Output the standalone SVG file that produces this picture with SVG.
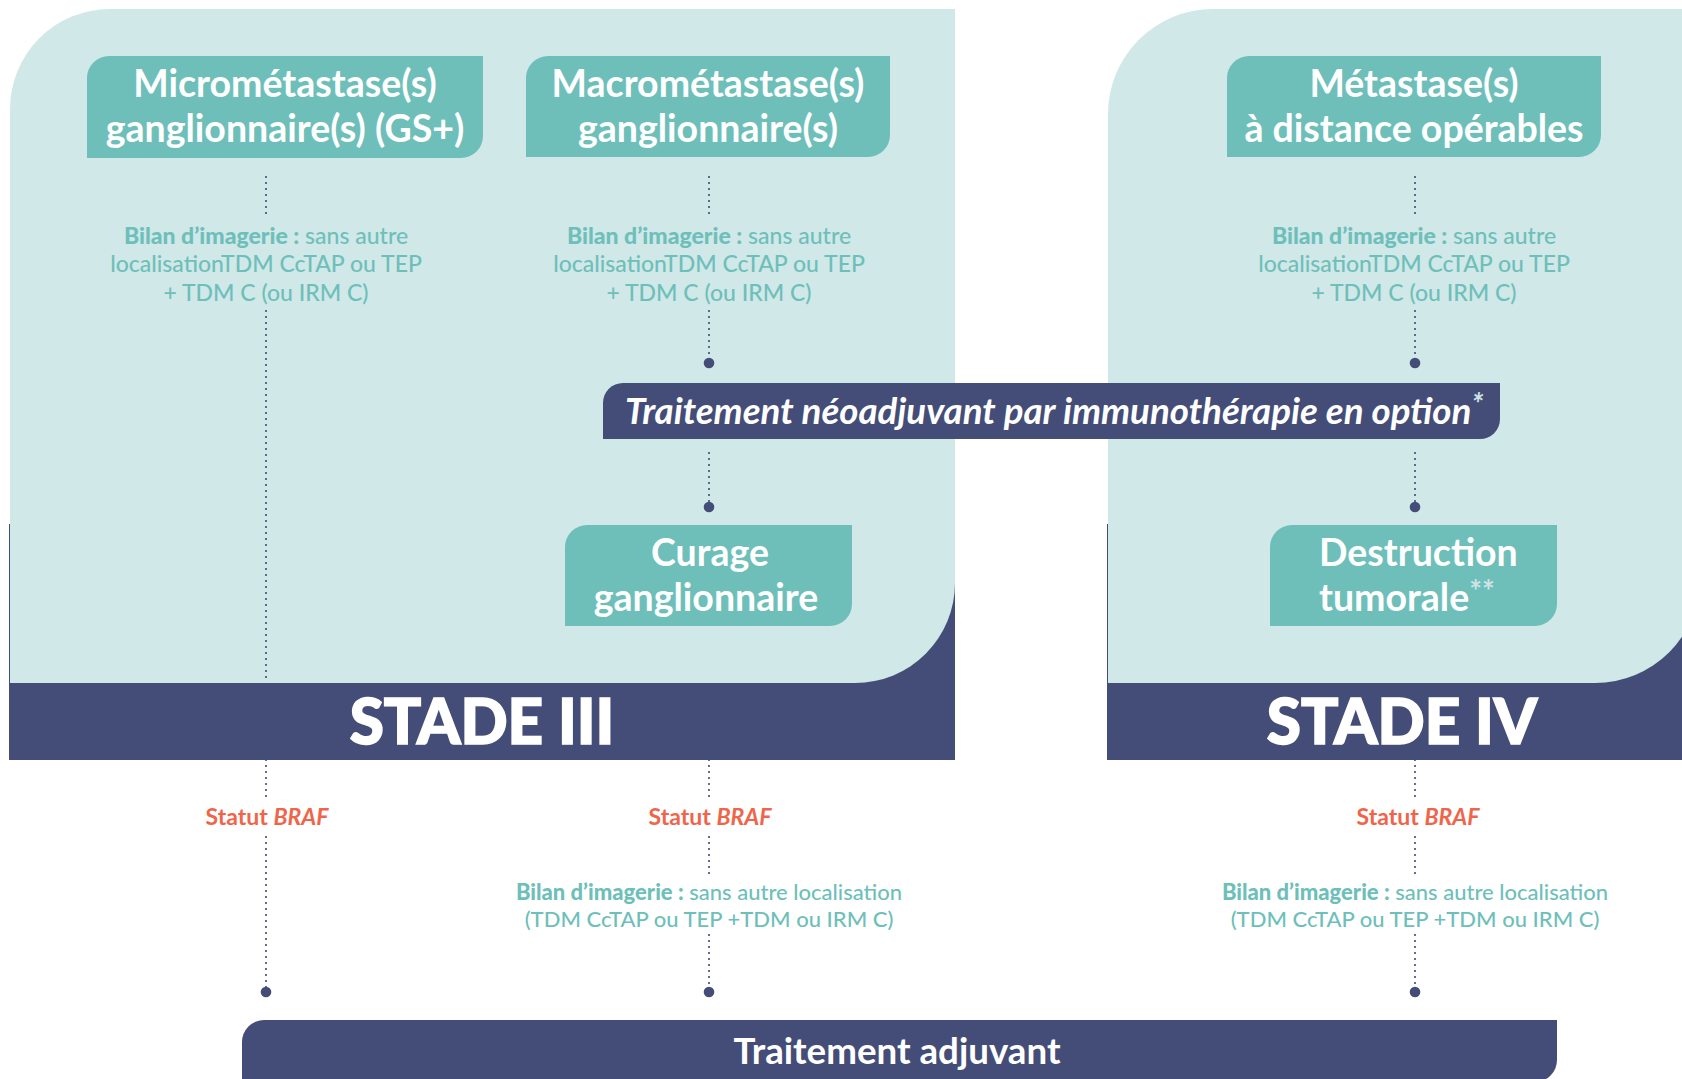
<svg xmlns="http://www.w3.org/2000/svg" width="1682" height="1079" viewBox="0 0 1682 1079">
<style>
.panel{fill:#d0e8e8}
.dark{fill:#444d77}
.box{fill:#6ebfba}
.h{font-family:Lato,"Open Sans","Liberation Sans",sans-serif;font-weight:700;font-size:37.5px;fill:#fff}
.c{text-anchor:middle}
.stade{font-family:Lato,"Liberation Sans",sans-serif;font-weight:900;font-size:62px;fill:#fff;stroke:#fff;stroke-width:1.6;text-anchor:middle}
.bilan{font-family:Lato,"Liberation Sans",sans-serif;font-weight:500;font-size:23px;fill:#6ebfba;text-anchor:middle}
.sm{font-size:22px}
.b{font-weight:900}
.braf{font-family:Lato,"Liberation Sans",sans-serif;font-weight:700;font-size:23px;fill:#f0654a;text-anchor:middle}
.bar{font-family:Lato,"Liberation Sans",sans-serif;font-weight:700;font-size:36.7px;fill:#fff}
.ast{fill:#cfe3e3;font-size:30px}
.dots{stroke:#444d77;stroke-width:2.2;stroke-dasharray:0 6;stroke-linecap:round;fill:none}
.dot{fill:#444d77}
</style>
<g id="stade3">
<rect class="dark" x="9" y="524" width="946" height="236"/>
<path class="panel" d="M10,109 A100,100 0 0 1 110,9 L955,9 L955,583 A100,100 0 0 1 855,683 L10,683 Z"/>
<text class="stade" x="482" y="744">STADE III</text>
</g>
<g id="stade4">
<rect class="dark" x="1107" y="524" width="575" height="236"/>
<path class="panel" d="M1108,114 A105,105 0 0 1 1213,9 L1700,9 L1700,578 A105,105 0 0 1 1595,683 L1108,683 Z"/>
<text class="stade" x="1402" y="744">STADE IV</text>
</g>
<g id="connectors">
<path class="dots" d="M266,177 V218 M266,311 V683 M266,760 V800 M266,837 V988"/>
<path class="dots" d="M709,177 V218 M709,311 V358 M709,453 V502 M709,760 V800 M709,837 V876 M709,935 V988"/>
<path class="dots" d="M1415,177 V218 M1415,311 V358 M1415,453 V502 M1415,760 V800 M1415,837 V876 M1415,935 V988"/>
<circle class="dot" cx="709" cy="363" r="5.3"/>
<circle class="dot" cx="709" cy="507" r="5.3"/>
<circle class="dot" cx="1415" cy="363" r="5.3"/>
<circle class="dot" cx="1415" cy="507" r="5.3"/>
<circle class="dot" cx="266" cy="992" r="5.3"/>
<circle class="dot" cx="709" cy="992" r="5.3"/>
<circle class="dot" cx="1415" cy="992" r="5.3"/>
</g>
<g id="micro">
<path class="box" d="M87,78 A22,22 0 0 1 109,56 L483,56 L483,136 A22,22 0 0 1 461,158 L87,158 Z"/>
<text class="h c" x="285" y="97">Micrométastase(s)</text>
<text class="h c" x="285" y="142">ganglionnaire(s) (GS+)</text>
</g>
<g id="macro">
<path class="box" d="M526,78 A22,22 0 0 1 548,56 L890,56 L890,135 A22,22 0 0 1 868,157 L526,157 Z"/>
<text class="h c" x="708" y="97">Macrométastase(s)</text>
<text class="h c" x="708" y="142">ganglionnaire(s)</text>
</g>
<g id="meta">
<path class="box" d="M1227,78 A22,22 0 0 1 1249,56 L1601,56 L1601,135 A22,22 0 0 1 1579,157 L1227,157 Z"/>
<text class="h c" x="1414" y="97">Métastase(s)</text>
<text class="h c" x="1414" y="142">à distance opérables</text>
</g>
<g id="bilan1">
<text class="bilan" x="266" y="244"><tspan class="b">Bilan d’imagerie :</tspan> sans autre</text>
<text class="bilan" x="266" y="272">localisationTDM CcTAP ou TEP</text>
<text class="bilan" x="266" y="301">+ TDM C (ou IRM C)</text>
</g>
<g id="bilan2">
<text class="bilan" x="709" y="244"><tspan class="b">Bilan d’imagerie :</tspan> sans autre</text>
<text class="bilan" x="709" y="272">localisationTDM CcTAP ou TEP</text>
<text class="bilan" x="709" y="301">+ TDM C (ou IRM C)</text>
</g>
<g id="bilan3">
<text class="bilan" x="1414" y="244"><tspan class="b">Bilan d’imagerie :</tspan> sans autre</text>
<text class="bilan" x="1414" y="272">localisationTDM CcTAP ou TEP</text>
<text class="bilan" x="1414" y="301">+ TDM C (ou IRM C)</text>
</g>
<g id="neoadjuvant">
<path class="dark" d="M603,403 A20,20 0 0 1 623,383 L1500,383 L1500,419 A20,20 0 0 1 1480,439 L603,439 Z"/>
<text class="bar" x="625" y="424" font-style="italic">Traitement néoadjuvant par immunothérapie en option<tspan class="ast" dy="-9">*</tspan></text>
</g>
<g id="curage">
<path class="box" d="M565,547 A22,22 0 0 1 587,525 L852,525 L852,604 A22,22 0 0 1 830,626 L565,626 Z"/>
<text class="h c" x="710" y="566">Curage</text>
<text class="h c" x="706" y="611">ganglionnaire</text>
</g>
<g id="destruction">
<path class="box" d="M1270,547 A22,22 0 0 1 1292,525 L1557,525 L1557,604 A22,22 0 0 1 1535,626 L1270,626 Z"/>
<text class="h" x="1319" y="566">Destruction</text>
<text class="h" x="1319" y="611">tumorale<tspan class="ast" dy="-9">**</tspan></text>
</g>
<g id="braf1"><text class="braf" x="267" y="825">Statut <tspan font-style="italic">BRAF</tspan></text></g>
<g id="braf2"><text class="braf" x="710" y="825">Statut <tspan font-style="italic">BRAF</tspan></text></g>
<g id="braf3"><text class="braf" x="1418" y="825">Statut <tspan font-style="italic">BRAF</tspan></text></g>
<g id="bilan4">
<text class="bilan sm" x="709" y="900"><tspan class="b">Bilan d’imagerie :</tspan> sans autre localisation</text>
<text class="bilan sm" x="709" y="927">(TDM CcTAP ou TEP +TDM ou IRM C)</text>
</g>
<g id="bilan5">
<text class="bilan sm" x="1415" y="900"><tspan class="b">Bilan d’imagerie :</tspan> sans autre localisation</text>
<text class="bilan sm" x="1415" y="927">(TDM CcTAP ou TEP +TDM ou IRM C)</text>
</g>
<g id="adjuvant">
<path class="dark" d="M242,1042 A22,22 0 0 1 264,1020 L1557,1020 L1557,1060 A22,22 0 0 1 1535,1082 L242,1082 Z"/>
<text class="bar" x="897" y="1064" text-anchor="middle" font-size="37.5">Traitement adjuvant</text>
</g>
</svg>
